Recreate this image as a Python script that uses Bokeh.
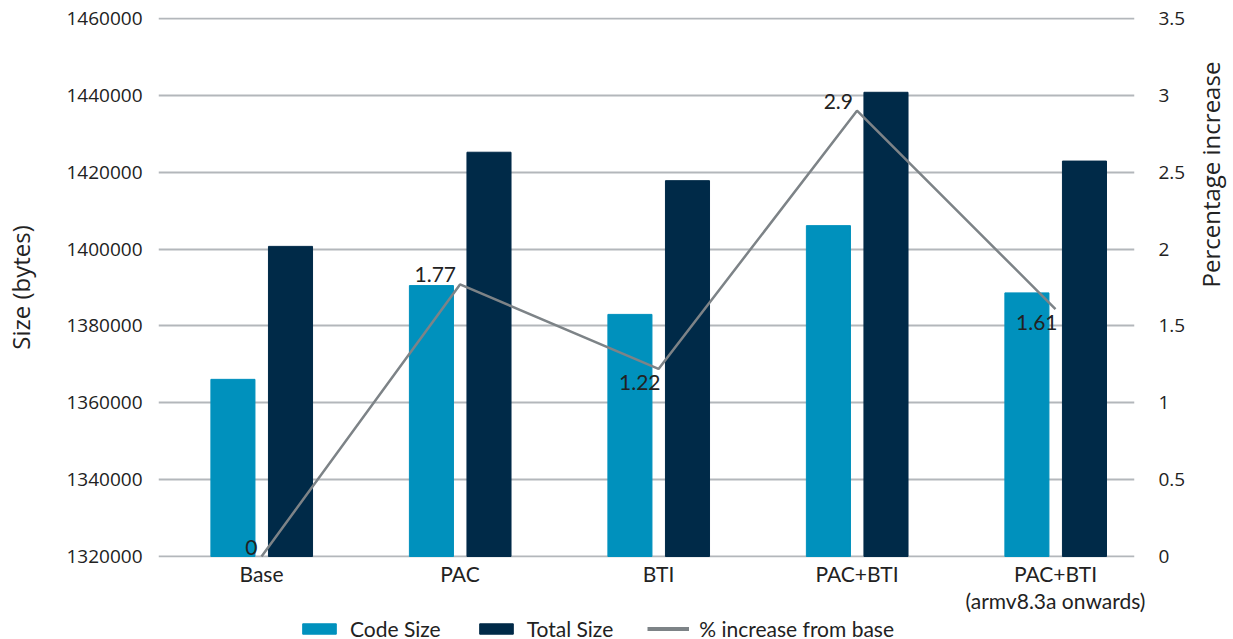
import math
from bokeh.plotting import figure
from bokeh.layouts import column
from bokeh.models import (ColumnDataSource, Range1d, LinearAxis, FixedTicker,
                          NumeralTickFormatter, Legend, LegendItem, CDSView,
                          IndexFilter)
from bokeh.transform import dodge
from bokeh.core.properties import value
from bokeh.embed import file_html
from bokeh.resources import INLINE

# ---- data ----
categories = ["Base", "PAC", "BTI", "PAC+BTI", "PAC+BTI\n(armv8.3a onwards)"]
code_size = [1366100, 1390500, 1383000, 1406100, 1388600]
total_size = [1400700, 1425200, 1417800, 1440800, 1422900]
pct_increase = [0, 1.77, 1.22, 2.9, 1.61]
pct_labels = ["0", "1.77", "1.22", "2.9", "1.61"]
size_ticks = [1320000, 1340000, 1360000, 1380000, 1400000, 1420000, 1440000, 1460000]
pct_ticks = [0, 0.5, 1, 1.5, 2, 2.5, 3, 3.5]
series_names = ["Code Size", "Total Size", "% increase from base"]

# label placement (style)
label_place = ["above", "above", "below", "above", "below"]

CODE_C = "#0091bd"
TOTAL_C = "#002a48"
LINE_C = "#7d8387"
GRID_C = "#b3b7bb"
TEXT_C = "#222222"

idx = list(range(len(categories)))
src = ColumnDataSource(dict(idx=idx, code=code_size, total=total_size,
                            pct=pct_increase, lab=pct_labels))

# one pixel of padding so the edge gridlines are not clipped
pad = (size_ticks[-1] - size_ticks[0]) / 538.0
ppad = (pct_ticks[-1] - pct_ticks[0]) / 538.0
y0 = size_ticks[0]
p = figure(frame_width=976, frame_height=540, output_backend="svg",
           toolbar_location=None,
           x_range=Range1d(-0.519, 4.398),
           y_range=Range1d(size_ticks[0] - pad, size_ticks[-1] + pad),
           min_border_left=158, min_border_right=99, min_border_top=17,
           min_border_bottom=57)
p.extra_y_ranges = {"pct": Range1d(pct_ticks[0] - ppad, pct_ticks[-1] + ppad)}
p.outline_line_color = None
p.background_fill_color = "white"
p.border_fill_color = "white"

# grid
p.xgrid.visible = False
p.ygrid.grid_line_color = GRID_C
p.ygrid.grid_line_width = 2
p.ygrid.ticker = FixedTicker(ticks=size_ticks)

# bars
p.vbar(x=dodge("idx", -0.144, range=p.x_range), top="code", bottom=y0,
       width=0.222, source=src, fill_color=CODE_C, line_color=CODE_C)
p.vbar(x=dodge("idx", 0.146, range=p.x_range), top="total", bottom=y0,
       width=0.222, source=src, fill_color=TOTAL_C, line_color=TOTAL_C)

# line
p.line(x="idx", y="pct", y_range_name="pct", source=src,
       line_color=LINE_C, line_width=2.5)

above = [i for i, s in enumerate(label_place) if s == "above"]
below = [i for i, s in enumerate(label_place) if s == "below"]
p.text(x="idx", y="pct", text="lab", y_range_name="pct", source=src,
       view=CDSView(filter=IndexFilter(above)), text_align="right",
       text_baseline="bottom", x_offset=-4, y_offset=-2,
       text_font=value("Lato"), text_font_size="21px", text_color=TEXT_C)
p.text(x="idx", y="pct", text="lab", y_range_name="pct", source=src,
       view=CDSView(filter=IndexFilter(below)), text_align="right",
       text_baseline="top", x_offset=2, y_offset=6,
       text_font=value("Lato"), text_font_size="21px", text_color=TEXT_C)


def style_y(a):
    a.axis_line_color = None
    a.major_tick_line_color = None
    a.minor_tick_line_color = None
    a.major_label_text_font = "Open Sans"
    a.major_label_text_font_size = "19px"
    a.major_label_text_color = TEXT_C
    a.axis_label_text_font = "Open Sans"
    a.axis_label_text_font_size = "24px"
    a.axis_label_text_font_style = "normal"
    a.axis_label_text_color = TEXT_C


# left axis
ax = p.yaxis[0]
ax.ticker = FixedTicker(ticks=size_ticks)
ax.formatter = NumeralTickFormatter(format="0")
ax.axis_label = "Size (bytes)"
style_y(ax)
ax.major_label_standoff = 10
ax.axis_label_standoff = 26

# right axis
rax = LinearAxis(y_range_name="pct", ticker=FixedTicker(ticks=pct_ticks),
                 formatter=NumeralTickFormatter(format="0.[0]"),
                 axis_label="Percentage increase")
style_y(rax)
rax.major_label_standoff = 18
rax.axis_label_standoff = 22
if "axis_label_orientation" in rax.properties():
    rax.axis_label_orientation = math.pi / 2
p.add_layout(rax, "right")

# x axis
xa = p.xaxis[0]
xa.ticker = FixedTicker(ticks=idx)
xa.major_label_overrides = {i: c for i, c in zip(idx, categories)}
xa.axis_line_color = None
xa.major_tick_line_color = None
xa.minor_tick_line_color = None
xa.major_tick_in = 0
xa.major_tick_out = 0
xa.minor_tick_in = 0
xa.minor_tick_out = 0
xa.axis_label_standoff = 0
xa.major_label_text_font = "Lato"
xa.major_label_text_font_size = "21px"
xa.major_label_text_line_height = 1.1
xa.major_label_text_color = TEXT_C
xa.major_label_standoff = 3

# ---- legend strip (separate figure below the chart) ----
lg = figure(width=1233, height=25, output_backend="svg", toolbar_location=None,
            x_axis_location=None, y_axis_location=None, min_border=0,
            x_range=Range1d(0, 1), y_range=Range1d(0, 1))
lg.outline_line_color = None
lg.xgrid.visible = False
lg.ygrid.visible = False
# placeholder source (NaN = nothing drawn in the strip) so legend swatches render
key_src = ColumnDataSource(dict(x=[float("nan")], y=[float("nan")]))
k_code = lg.vbar(x="x", top="y", width=0.1, source=key_src,
                 fill_color=CODE_C, line_color=CODE_C)
k_total = lg.vbar(x="x", top="y", width=0.1, source=key_src,
                  fill_color=TOTAL_C, line_color=TOTAL_C)
k_line = lg.line(x="x", y="y", source=key_src, line_color=LINE_C, line_width=4)
legend = Legend(items=[LegendItem(label=series_names[0], renderers=[k_code]),
                       LegendItem(label=series_names[1], renderers=[k_total]),
                       LegendItem(label=series_names[2], renderers=[k_line])],
                orientation="horizontal", location=(140, 0),
                glyph_width=42, glyph_height=13, label_standoff=10, spacing=34,
                label_height=16,
                padding=0, margin=0, border_line_color=None,
                background_fill_alpha=0,
                label_text_font="Lato", label_text_font_size="21px",
                label_text_color=TEXT_C)
lg.add_layout(legend, "center")

page = column(p, lg, spacing=0)
open("out.html", "w").write(file_html(page, INLINE))
